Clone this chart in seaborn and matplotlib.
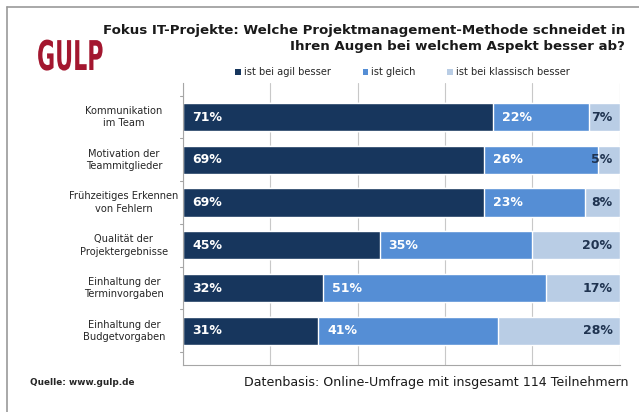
import pandas as pd
import matplotlib
matplotlib.use("Agg")
import matplotlib.pyplot as plt
import seaborn as sns
from matplotlib.patches import Patch, PathPatch
from matplotlib.lines import Line2D
from matplotlib.textpath import TextPath
from matplotlib.font_manager import FontProperties
from matplotlib.transforms import Affine2D, IdentityTransform, blended_transform_factory

# Daten
kategorien = ["Kommunikation\nim Team", "Motivation der\nTeammitglieder",
              "Frühzeitiges Erkennen\nvon Fehlern", "Qualität der\nProjektergebnisse",
              "Einhaltung der\nTerminvorgaben", "Einhaltung der\nBudgetvorgaben"]
agil = [71, 69, 69, 45, 32, 31]
gleich = [22, 26, 23, 35, 51, 41]
klassisch = [7, 5, 8, 20, 17, 28]
serien = ["ist bei agil besser", "ist gleich", "ist bei klassisch besser"]

farben = ["#17365d", "#558ed5", "#b9cde5"]

df = pd.DataFrame({"kat": kategorien, "agil": agil, "gleich": gleich, "klassisch": klassisch})
df["s1"] = df["agil"]
df["s2"] = df["agil"] + df["gleich"]
df["s3"] = df["s2"] + df["klassisch"]

sns.set_style("white")
plt.rcParams["font.family"] = ["DejaVu Sans"]

fig = plt.figure(figsize=(6.39, 4.12), dpi=100)
ax = fig.add_axes([0.2864, 0.114, 0.6836, 0.685])

# gestapelte Balken: Summen von hinten nach vorne zeichnen
for col, c in zip(["s3", "s2", "s1"], farben[::-1]):
    sns.barplot(data=df, x=col, y="kat", color=c, width=0.66, ax=ax, saturation=1, orient="h")

ax.set_xlim(0, 100)
ax.set_xticks([0, 20, 40, 60, 80, 100])
ax.set_xticklabels([])
ax.xaxis.grid(True, color="#c8c8c8", linewidth=0.8)
ax.set_axisbelow(True)
ax.set_xlabel("")
ax.set_ylabel("")
for s in ["top", "right"]:
    ax.spines[s].set_visible(False)
for s in ["left", "bottom"]:
    ax.spines[s].set_color("#a6a6a6")
    ax.spines[s].set_linewidth(0.8)
ax.tick_params(axis="x", length=4, color="#a6a6a6", direction="out")
ax.tick_params(axis="y", length=0)
ax.set_yticklabels([])
# kleine Striche zwischen den Kategorien
for yy in [i + 0.5 for i in range(-1, len(kategorien))]:
    ax.plot([-0.8, 0], [yy, yy], color="#a6a6a6", lw=0.8, clip_on=False)

# Kategorienamen zentriert links
trans = blended_transform_factory(fig.transFigure, ax.transData)
for i, k in enumerate(kategorien):
    ax.text(0.194, i, k, transform=trans, ha="center", va="center", fontsize=7.1,
            color="#262626", linespacing=1.3)

# Beschriftungen
for i in range(len(kategorien)):
    ax.text(2.2, i, f"{agil[i]}%", color="white", fontweight="bold", fontsize=9, va="center")
    ax.text(agil[i] + 2.0, i, f"{gleich[i]}%", color="white", fontweight="bold", fontsize=9, va="center")
    ax.text(98.3, i, f"{klassisch[i]}%", color="#1f3350", fontweight="bold", fontsize=9,
            va="center", ha="right")

# Titel
fig.text(0.978, 0.907, "Fokus IT-Projekte: Welche Projektmanagement-Methode schneidet in\n"
         "Ihren Augen bei welchem Aspekt besser ab?", ha="right", va="center",
         fontsize=9.6, fontweight="bold", color="#1a1a1a", linespacing=1.3)

# Logo (schmal gezogener Schriftzug)
tp = TextPath((0, 0), "GULP", size=41, prop=FontProperties(family="DejaVu Sans", weight="bold"))
logo_tr = Affine2D().scale(0.54, 1.0).translate(37, 412 - 70)
fig.add_artist(PathPatch(tp, transform=logo_tr + IdentityTransform(), facecolor="#a3172f",
                         edgecolor="none"))

# Legende
handles = [Patch(facecolor=c, edgecolor="none") for c in farben]
fig.legend(handles, serien, loc="center", bbox_to_anchor=(0.63, 0.825), ncol=3, frameon=False,
           fontsize=7.1, handlelength=0.55, handleheight=0.55, handletextpad=0.35, columnspacing=3.2)

# Fußzeile
fig.text(0.047, 0.072, "Quelle: www.gulp.de", fontsize=6.4, fontweight="bold", va="center")
fig.text(0.983, 0.072, "Datenbasis: Online-Umfrage mit insgesamt 114 Teilnehmern", fontsize=9.1,
         ha="right", va="center", color="#1a1a1a")

# Rahmen links und oben
fig.add_artist(Line2D([0.011, 0.011], [0, 0.983], color="#9a9a9a", lw=1.2))
fig.add_artist(Line2D([0.011, 1.0], [0.983, 0.983], color="#9a9a9a", lw=1.2))

fig.savefig("out.png", dpi=100)
